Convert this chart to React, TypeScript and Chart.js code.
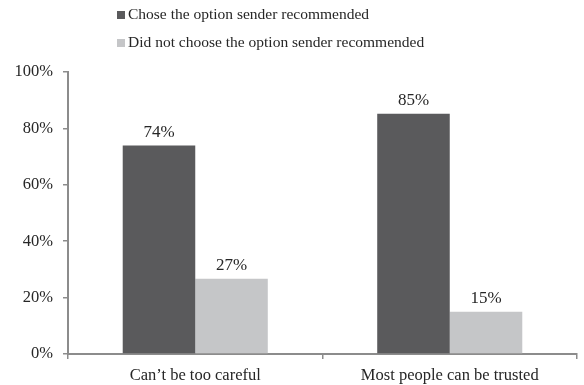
import React, { useEffect, useRef } from "react";
import { Chart, registerables } from "chart.js";

Chart.register(...registerables);

const categories = ["Can\u2019t be too careful", "Most people can be trusted"];
const seriesNames = [
  "Chose the option sender recommended",
  "Did not choose the option sender recommended",
];
const chose = [73.9, 85.2];
const didNot = [26.7, 15.0];
const yTicks = [0, 20, 40, 60, 80, 100];
const colors = ["#5a5a5c", "#c5c6c8"];

const FONT = "'Liberation Serif', 'Times New Roman', serif";
const TEXT = "#262626";
const AXIS = "#8c8c8c";

const legendPlugin = {
  id: "customLegend",
  afterDraw(chart: any) {
    const ctx = chart.ctx;
    ctx.save();
    ctx.font = `15.5px ${FONT}`;
    ctx.textBaseline = "middle";
    ctx.textAlign = "left";
    const x0 = 117;
    const rows = [15, 43];
    chart.data.datasets.forEach((ds: any, i: number) => {
      const y = rows[i];
      ctx.fillStyle = ds.backgroundColor;
      ctx.fillRect(x0, y - 4, 8, 8);
      ctx.fillStyle = TEXT;
      ctx.fillText(ds.label, x0 + 11, y);
    });
    ctx.restore();
  },
};

const valueLabelPlugin = {
  id: "valueLabels",
  afterDatasetsDraw(chart: any) {
    const ctx = chart.ctx;
    ctx.save();
    ctx.font = `17px ${FONT}`;
    ctx.fillStyle = TEXT;
    ctx.textAlign = "center";
    ctx.textBaseline = "alphabetic";
    chart.data.datasets.forEach((ds: any, di: number) => {
      const meta = chart.getDatasetMeta(di);
      meta.data.forEach((bar: any, i: number) => {
        ctx.fillText(Math.round(ds.data[i]) + "%", bar.x, bar.y - 9);
      });
    });
    ctx.restore();
  },
};

export default function App() {
  const ref = useRef<HTMLCanvasElement>(null);
  useEffect(() => {
    document.body.style.margin = "0";
    const chart = new Chart(ref.current!, {
      type: "bar",
      data: {
        labels: categories,
        datasets: [
          { label: seriesNames[0], data: chose, backgroundColor: colors[0] },
          { label: seriesNames[1], data: didNot, backgroundColor: colors[1] },
        ],
      },
      options: {
        animation: false,
        responsive: false,
        layout: { padding: { top: 72, right: 7, left: 0, bottom: 0 } },
        datasets: { bar: { categoryPercentage: 0.57, barPercentage: 1.0 } },
        plugins: { legend: { display: false }, tooltip: { enabled: false } },
        scales: {
          x: {
            grid: {
              offset: true,
              drawOnChartArea: false,
              tickLength: 5,
              color: AXIS,
              lineWidth: 1.5,
            },
            border: { color: AXIS, width: 2 },
            ticks: {
              color: TEXT,
              font: { family: FONT, size: 16.5 },
              padding: 7,
              maxRotation: 0,
            },
            afterFit(scale: any) {
              scale.height = 31;
            },
          },
          y: {
            min: 0,
            max: 100,
            afterBuildTicks(scale: any) {
              scale.ticks = yTicks.map((v) => ({ value: v }));
            },
            grid: {
              drawOnChartArea: false,
              tickLength: 5,
              color: AXIS,
              lineWidth: 1.5,
            },
            border: { color: AXIS, width: 2 },
            ticks: {
              color: TEXT,
              font: { family: FONT, size: 16.5 },
              padding: 10,
              callback: (v: any) => v + "%",
            },
            afterFit(scale: any) {
              scale.width = 68;
            },
          },
        },
      },
      plugins: [legendPlugin, valueLabelPlugin],
    });
    return () => chart.destroy();
  }, []);
  return <canvas ref={ref} width={584} height={385} style={{ display: "block" }} />;
}
